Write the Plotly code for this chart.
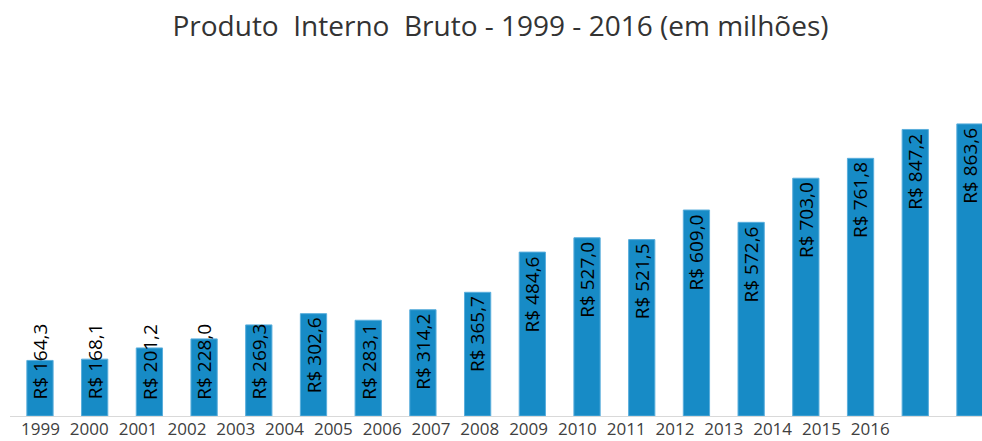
import plotly.graph_objects as go

years = ["1999", "2000", "2001", "2002", "2003", "2004", "2005", "2006", "2007",
         "2008", "2009", "2010", "2011", "2012", "2013", "2014", "2015", "2016"]
pib = [164.3, 168.1, 201.2, 228.0, 269.3, 302.6, 283.1, 314.2, 365.7,
       484.6, 527.0, 521.5, 609.0, 572.6, 703.0, 761.8, 847.2, 863.6]
labels = ["R$ " + f"{v:.1f}".replace(".", ",") for v in pib]

W, H = 982, 441
BAR_COLOR = "#178bc6"
FONT = "Open Sans"
LABEL_FLOOR = 285  # Excel keeps the label of short bars above this level

idx = list(range(len(pib)))

fig = go.Figure()
fig.add_trace(go.Bar(
    x=idx, y=pib, marker=dict(color=BAR_COLOR, line=dict(color="#5aaedc", width=1)),
    hoverinfo="skip", showlegend=False, xaxis="x", yaxis="y",
))
# invisible trace carrying the year labels axis
fig.add_trace(go.Scatter(
    x=idx, y=[0] * len(idx), mode="markers", marker=dict(opacity=0),
    hoverinfo="skip", showlegend=False, xaxis="x2", yaxis="y",
))

for i, (v, t) in enumerate(zip(pib, labels)):
    fig.add_annotation(
        x=i, y=max(v, LABEL_FLOOR), xref="x", yref="y", text=t, showarrow=False,
        textangle=-90, yanchor="top", xanchor="center", yshift=-2,
        font=dict(family=FONT, size=19, color="#000000"),
    )

fig.update_layout(
    width=W, height=H,
    margin=dict(l=10, r=0, t=116, b=25, autoexpand=False),
    paper_bgcolor="white", plot_bgcolor="white",
    bargap=0.52,
    title=dict(
        text="Produto\u00a0 Interno\u00a0 Bruto - 1999 - 2016 (em milhões)",
        x=500.5 / W, xref="container", xanchor="center",
        y=1 - 26 / H, yref="container", yanchor="middle",
        font=dict(family=FONT, size=28, color="#333333"),
    ),
    xaxis=dict(
        range=[-0.548, 17.22], showticklabels=False, ticks="", automargin=False,
        showgrid=False, zeroline=False, showline=True,
        linecolor="#d9d9d9", linewidth=1,
    ),
    xaxis2=dict(
        overlaying="x", side="bottom", anchor="y", automargin=False,
        range=[-0.625, 19.29], tickmode="array", tickvals=idx, ticktext=years,
        showgrid=False, zeroline=False, showline=False, ticks="",
        ticklabelstandoff=1,
        tickfont=dict(family=FONT, size=17, color="#404040"),
    ),
    yaxis=dict(range=[0, 887], visible=False, showgrid=False, zeroline=False,
               automargin=False),
)

fig.write_html(
    "out.html",
    config={"displayModeBar": False},
    post_script="document.body.style.margin='0';document.body.style.overflow='hidden';",
)
